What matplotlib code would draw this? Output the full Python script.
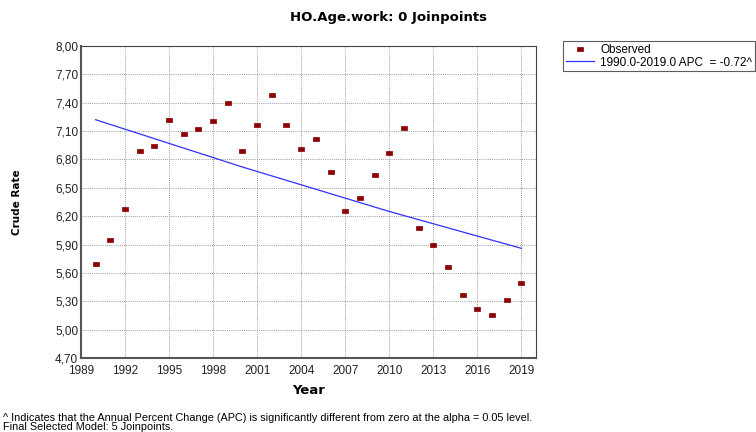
import numpy as np
import matplotlib
matplotlib.use("Agg")
import matplotlib.pyplot as plt

# observed crude rates
years = list(range(1990, 2020))
observed = [5.69, 5.95, 6.28, 6.89, 6.94, 7.22, 7.07, 7.12, 7.21, 7.40,
            6.89, 7.16, 7.48, 7.16, 6.91, 7.02, 6.67, 6.25, 6.39, 6.64,
            6.87, 7.13, 6.08, 5.89, 5.66, 5.37, 5.22, 5.15, 5.31, 5.49]

# fitted joinpoint segment (read at a few years)
fit_years = [1990, 2000, 2010, 2019]
fit_values = [7.22, 6.72, 6.25, 5.86]

x_ticks = [1989, 1992, 1995, 1998, 2001, 2004, 2007, 2010, 2013, 2016, 2019]
y_ticks = [4.70, 5.00, 5.30, 5.60, 5.90, 6.20, 6.50, 6.80, 7.10, 7.40, 7.70, 8.00]
y_labels = ["4,70", "5,00", "5,30", "5,60", "5,90", "6,20", "6,50",
            "6,80", "7,10", "7,40", "7,70", "8,00"]

plt.rcParams['font.family'] = ['Liberation Sans', 'DejaVu Sans']

# flat rectangle marker like the original
rect = [(-1, -0.7), (1, -0.7), (1, 0.7), (-1, 0.7), (-1, -0.7)]

fig = plt.figure(figsize=(7.56, 4.32), dpi=100)
ax = fig.add_axes([81/756, 1 - 358/432, (536 - 81)/756, (358 - 46)/432])

obs, = ax.plot(years, observed, linestyle='none', marker=rect, markersize=5,
               color='#8b0000', markeredgecolor='#8b0000', markeredgewidth=0.5,
               zorder=3)
fit, = ax.plot(fit_years, fit_values, color='#3030ff', linewidth=0.9, zorder=2)

ax.set_xlim(1989, 2020)
ax.set_ylim(4.70, 8.00)
ax.set_xticks(x_ticks)
ax.set_yticks(y_ticks)
ax.set_yticklabels(y_labels)
ax.tick_params(axis='both', length=0, labelsize=8.5, colors='#222222')
ax.tick_params(axis='x', pad=5)
ax.tick_params(axis='y', pad=2)
ax.grid(True, linestyle=(0, (1, 1.2)), color='#999999', linewidth=0.7)

for side in ['left', 'bottom']:
    ax.spines[side].set_color('#555555')
    ax.spines[side].set_linewidth(1.5)
for side in ['top', 'right']:
    ax.spines[side].set_color('#444444')
    ax.spines[side].set_linewidth(0.8)

ax.set_xlabel('Year', fontsize=9.5, fontweight='bold', family='DejaVu Sans', labelpad=5)
ax.set_ylabel('Crude Rate', fontsize=7.5, fontweight='bold', family='DejaVu Sans',
              labelpad=24)

fig.text(389/756, 1 - 18/432, 'HO.Age.work: 0 Joinpoints', ha='center', va='center',
         fontsize=9.5, fontweight='bold', family='DejaVu Sans')

leg = fig.legend([obs, fit], ['Observed', '1990.0-2019.0 APC  = -0.72^'],
                 loc='upper left', bbox_to_anchor=(563/756, 1 - 41/432),
                 fontsize=8.5, frameon=True, fancybox=False, edgecolor='#333333',
                 borderpad=0.25, labelspacing=0.05, handlelength=2.4,
                 handletextpad=0.5, borderaxespad=0)
leg.get_frame().set_linewidth(0.8)

fig.text(3/756, 1 - 418/432,
         '^ Indicates that the Annual Percent Change (APC) is significantly different from zero at the alpha = 0.05 level.',
         ha='left', va='center', fontsize=7.8)
fig.text(3/756, 1 - 427.5/432, 'Final Selected Model: 5 Joinpoints.',
         ha='left', va='center', fontsize=7.8)

fig.savefig('out.png', dpi=100)
